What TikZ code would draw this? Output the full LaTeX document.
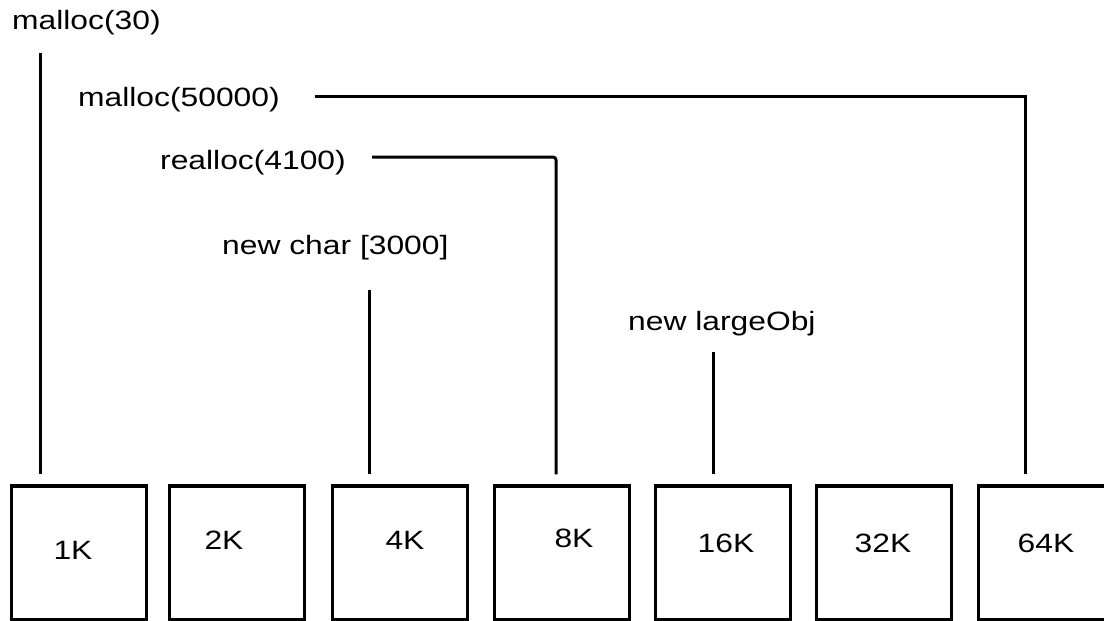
\documentclass[tikz,border=0pt]{standalone}
\usepackage{fontspec}
\setmainfont{Liberation Sans}[FakeStretch=1.2]
\begin{document}
\begin{tikzpicture}[x=1pt,y=-1pt,
  membox/.style={draw=black,line width=3.5pt,minimum width=135pt,minimum height=134pt,inner sep=0pt},
  lbl/.style={inner sep=0pt,font=\fontsize{26.5}{31}\selectfont},
  call/.style={inner sep=0pt,anchor=west,font=\fontsize{26.5}{31}\selectfont},
  wire/.style={line width=3pt,line cap=butt}]
\useasboundingbox (0,0) rectangle (1104,621);
\fill[white] (0,0) rectangle (1104,621);
\clip (0,0) rectangle (1104,621);
% boxes
\node[membox] (b1) at (79,553) {};
\node[membox] (b2) at (237,553) {};
\node[membox] (b3) at (400,553) {};
\node[membox] (b4) at (562,553) {};
\node[membox] (b5) at (723,553) {};
\node[membox] (b6) at (884,553) {};
\node[membox] (b7) at (1046,553) {};
% box labels
\node[lbl] (l1) at (73,550) {1K};
\node[lbl] (l2) at (224,540) {2K};
\node[lbl] (l3) at (405,540) {4K};
\node[lbl] (l4) at (574,538) {8K};
\node[lbl] (l5) at (726,543) {16K};
\node[lbl] (l6) at (883,543) {32K};
\node[lbl] (l7) at (1046,543) {64K};
% call labels
\node[call] (m30) at (12,23) {malloc(30)};
\node[call] (m50) at (78,100) {malloc(50000)};
\node[call] (r41) at (160,163) {realloc(4100)};
\node[call] (nc) at (222,248) {new char [3000]};
\node[call] (nl) at (628,324) {new largeObj};
% connector start points and corners
\coordinate (s1) at (40,53);
\coordinate (s2) at (315,96);
\coordinate (k2) at (1025,96);
\coordinate (s3) at (372,157);
\coordinate (k3) at (556,157);
\coordinate (s4) at (369,290);
\coordinate (s5) at (713,352);
% connectors
\draw[wire,shorten >=10pt] (s1) -- (s1 |- b1.north);
\draw[wire,shorten >=10pt] (s2) -- (k2) -- (k2 |- b7.north);
\draw[wire,shorten >=10pt,rounded corners=3pt] (s3) -- (k3) -- (k3 |- b4.north);
\draw[wire,shorten >=10pt] (s4) -- (s4 |- b3.north);
\draw[wire,shorten >=10pt] (s5) -- (s5 |- b5.north);
\end{tikzpicture}
\end{document}
